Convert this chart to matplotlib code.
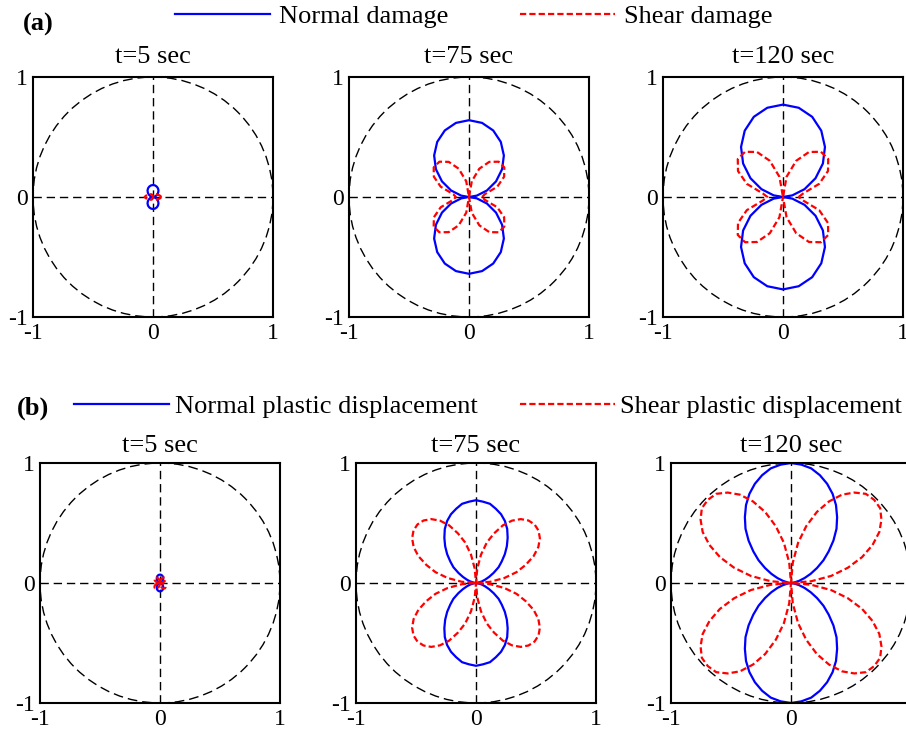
import numpy as np
import matplotlib
matplotlib.use("Agg")
import matplotlib.pyplot as plt
from matplotlib.patches import Circle

plt.rcParams["font.family"] = ["Liberation Serif", "DejaVu Serif"]

# Quarter-turn radius readings (0..90 deg); curves are symmetric about both axes
times = ["t=5 sec", "t=75 sec", "t=120 sec"]

# (a) damage, read every 10 deg
damage_step = 10
normal_damage = [
    [0, 0.010, 0.025, 0.041, 0.056, 0.071, 0.083, 0.092, 0.098, 0.10],
    [0, 0.066, 0.159, 0.260, 0.360, 0.452, 0.530, 0.590, 0.627, 0.64],
    [0, 0.079, 0.191, 0.313, 0.434, 0.544, 0.638, 0.711, 0.755, 0.77],
]
shear_damage = [
    [0.07, 0.060, 0.050, 0.040, 0.035, 0.030, 0.025, 0.020, 0.010, 0],
    [0.11, 0.133, 0.251, 0.338, 0.384, 0.384, 0.338, 0.251, 0.133, 0],
    [0.13, 0.171, 0.321, 0.433, 0.492, 0.492, 0.433, 0.321, 0.171, 0],
]

# (b) plastic displacement, read every 5 deg
disp_step = 5
normal_disp = [
    [0, 0, 0.002, 0.005, 0.008, 0.012, 0.018, 0.023, 0.029, 0.035,
     0.041, 0.047, 0.053, 0.058, 0.062, 0.065, 0.068, 0.069, 0.07],
    [0, 0.01, 0.02, 0.05, 0.08, 0.12, 0.17, 0.23, 0.28, 0.34,
     0.40, 0.46, 0.52, 0.57, 0.61, 0.64, 0.67, 0.68, 0.69],
    [0, 0.01, 0.03, 0.07, 0.12, 0.18, 0.25, 0.33, 0.41, 0.50,
     0.59, 0.67, 0.75, 0.82, 0.88, 0.93, 0.97, 0.99, 1.0],
]
shear_disp = [
    [0, 0.01, 0.02, 0.03, 0.04, 0.046, 0.052, 0.056, 0.059, 0.06,
     0.059, 0.056, 0.052, 0.046, 0.04, 0.03, 0.02, 0.01, 0],
    [0, 0.12, 0.24, 0.35, 0.44, 0.53, 0.60, 0.65, 0.68, 0.69,
     0.68, 0.65, 0.60, 0.53, 0.44, 0.35, 0.24, 0.12, 0],
    [0, 0.17, 0.34, 0.49, 0.63, 0.75, 0.85, 0.92, 0.97, 0.98,
     0.97, 0.92, 0.85, 0.75, 0.63, 0.49, 0.34, 0.17, 0],
]


def full_turn(q, step):
    q = np.asarray(q, dtype=float)
    r = np.concatenate([q, q[-2::-1], q[1:], q[-2::-1]])
    th = np.deg2rad(np.arange(0, 361, step))
    return r * np.cos(th), r * np.sin(th)


W, H = 906, 735
fig = plt.figure(figsize=(W / 100, H / 100), dpi=100)

# axes boxes in pixels: (left, top)
row_a = [(33, 77), (349, 77), (663, 77)]
row_b = [(40, 463), (356, 463), (671, 463)]
size = 240


def make_ax(left, top, title, pad):
    ax = fig.add_axes([left / W, 1 - (top + size) / H, size / W, size / H])
    ax.set_xlim(-1, 1)
    ax.set_ylim(-1, 1)
    ax.set_xticks([-1, 0, 1])
    ax.set_yticks([-1, 0, 1])
    ax.set_xticklabels(["-1", "0", "1"])
    ax.set_yticklabels(["-1", "0", "1"])
    ax.tick_params(length=0, labelsize=17, pad=4)
    for s in ax.spines.values():
        s.set_linewidth(1.5)
    ax.add_patch(Circle((0, 0), 1, fill=False, color="k", lw=1.0,
                        ls=(0, (7, 3.6)), clip_on=False))
    ax.axhline(0, color="k", lw=1.0, ls=(0, (6, 3.5)))
    ax.axvline(0, color="k", lw=1.0, ls=(0, (6, 3.5)))
    ax.set_title(title, fontsize=19, pad=pad)
    return ax


handles_a = None
for i, (left, top) in enumerate(row_a):
    ax = make_ax(left, top, times[i], 10)
    x, y = full_turn(normal_damage[i], damage_step)
    l1, = ax.plot(x, y, color="#0000ff", lw=1.6, label="Normal damage")
    x, y = full_turn(shear_damage[i], damage_step)
    l2, = ax.plot(x, y, color="#ff0000", lw=1.6, dashes=(2.8, 1.4),
                  label="Shear damage")
    if handles_a is None:
        handles_a = [l1, l2]

handles_b = None
for i, (left, top) in enumerate(row_b):
    ax = make_ax(left, top, times[i], 8)
    x, y = full_turn(normal_disp[i], disp_step)
    l1, = ax.plot(x, y, color="#0000ff", lw=1.6,
                  label="Normal plastic displacement")
    x, y = full_turn(shear_disp[i], disp_step)
    l2, = ax.plot(x, y, color="#ff0000", lw=1.6, dashes=(2.8, 1.4),
                  label="Shear plastic displacement")
    if handles_b is None:
        handles_b = [l1, l2]

fig.legend(handles=handles_a, loc="center", bbox_to_anchor=(473.5 / W, 1 - 16.5 / H),
           ncol=2, frameon=False, fontsize=19, handlelength=3.6,
           handletextpad=0.35, columnspacing=2.7, borderpad=0, borderaxespad=0)
fig.legend(handles=handles_b, loc="center", bbox_to_anchor=(488 / W, 1 - 406.5 / H),
           ncol=2, frameon=False, fontsize=19, handlelength=3.6,
           handletextpad=0.2, columnspacing=1.6, borderpad=0, borderaxespad=0)

fig.text(23 / W, 1 - 31 / H, "(a)", fontsize=19, fontweight="bold", va="baseline")
fig.text(17 / W, 1 - 415 / H, "(b)", fontsize=19, fontweight="bold", va="baseline")

fig.savefig("out.png", dpi=100)
